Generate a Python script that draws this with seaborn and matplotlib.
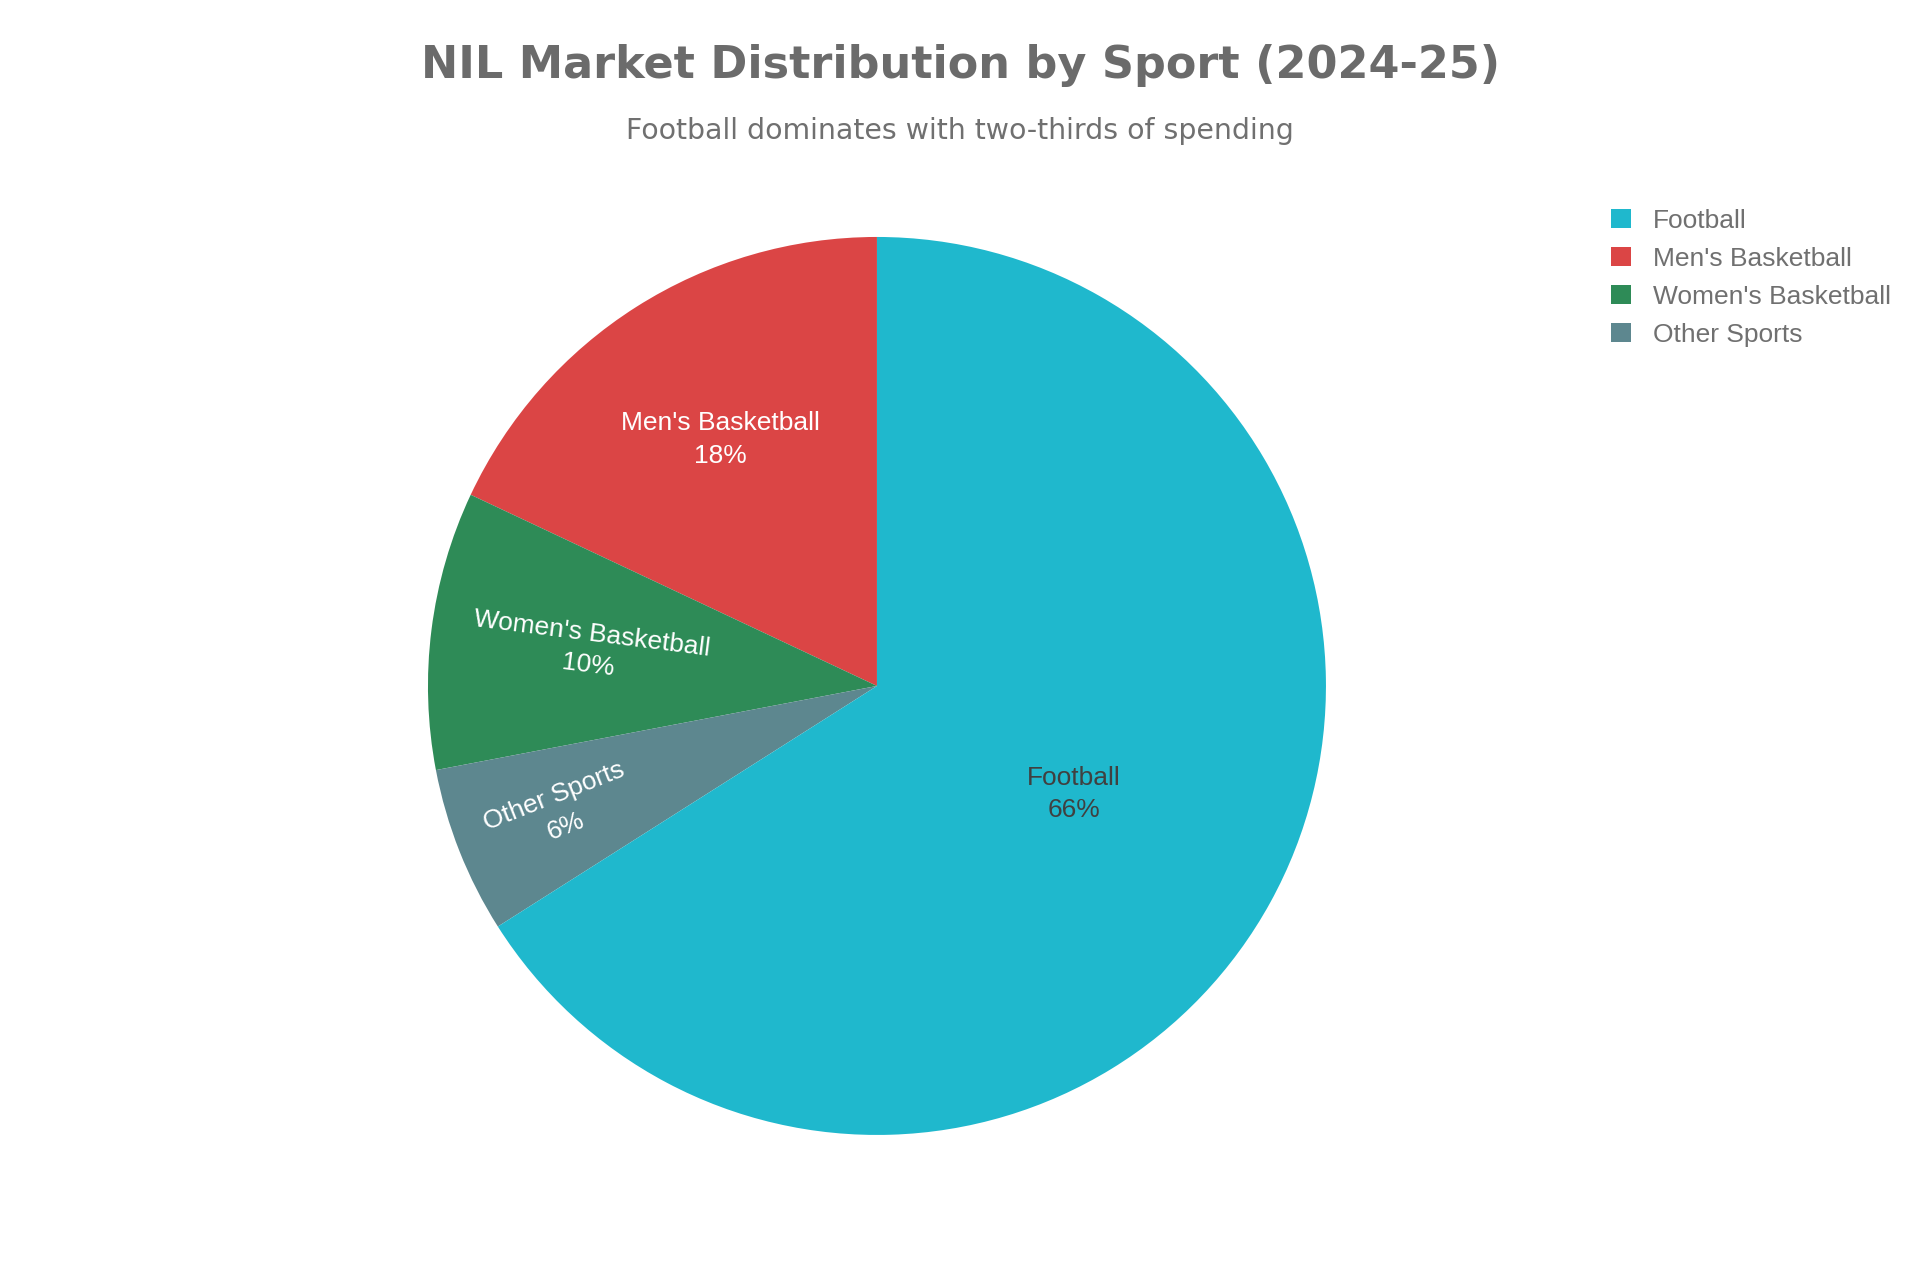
import numpy as np
import matplotlib
matplotlib.use("Agg")
import matplotlib.pyplot as plt
import seaborn as sns
from matplotlib.patches import Patch

# data
sports = ["Football", "Men's Basketball", "Women's Basketball", "Other Sports"]
shares = [66, 18, 10, 6]
colors = ["#1FB8CD", "#DB4545", "#2E8B57", "#5D878F"]
label_colors = ["#404040", "white", "white", "white"]

title = "NIL Market Distribution by Sport (2024-25)"
subtitle = "Football dominates with two-thirds of spending"

sns.set_theme(style="white")
plt.rcParams["font.family"] = ["DejaVu Sans"]

fig = plt.figure(figsize=(19.2, 12.8), dpi=100)
fig.patch.set_facecolor("white")

# pie placed where the reference has it (center ~877,686 px, r ~449 px)
ax = fig.add_axes([0.2229, 0.1133, 0.4677, 0.7016])

# drawn counter-clockwise from 12 o'clock, football last so it sits on the right
order = [1, 2, 3, 0]
vals = [shares[i] for i in order]
cols = [colors[i] for i in order]
wedges, _ = ax.pie(vals, colors=cols, startangle=90, counterclock=True,
                   radius=1, wedgeprops=dict(linewidth=0))
ax.set_xlim(-1, 1)
ax.set_ylim(-1, 1)
ax.set_aspect("equal")
ax.axis("off")

label_r = {0: 0.50, 1: 0.65, 2: 0.645, 3: 0.76}
for w, i in zip(wedges, order):
    mid = (w.theta1 + w.theta2) / 2
    r = label_r[i]
    x, y = r * np.cos(np.radians(mid)), r * np.sin(np.radians(mid))
    rot = 0
    if shares[i] < 15:
        rot = (mid + 90) % 180 - 90
    ax.text(x, y, f"{sports[i]}\n{shares[i]}%", ha="center", va="center",
            rotation=rot, rotation_mode="anchor", color=label_colors[i],
            fontsize=19, family=["Liberation Sans"], linespacing=1.45)

fig.text(0.5003, 0.949, title, ha="center", va="center", fontsize=32,
         fontweight="bold", color="#6b6b6b")
fig.text(0.5, 0.898, subtitle, ha="center", va="center", fontsize=20.4,
         color="#707070")

handles = [Patch(facecolor=c, edgecolor="none") for c in colors]
leg = fig.legend(handles, sports, loc="upper left", bbox_to_anchor=(0.839, 0.837),
                 frameon=False, borderpad=0, borderaxespad=0,
                 handlelength=0.76, handleheight=0.76,
                 handletextpad=0.83, labelspacing=0.53,
                 prop={"family": "Liberation Sans", "size": 19})
for t in leg.get_texts():
    t.set_color("#707070")

fig.savefig("out.png", dpi=100, facecolor="white")
